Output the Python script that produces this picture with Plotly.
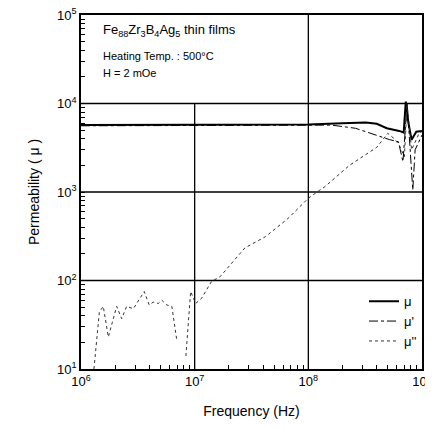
import plotly.graph_objects as go

# mu (solid)
f_mu = [1e6, 2e6, 5e6, 1e7, 2e7, 5e7, 1e8, 2e8, 3.2e8, 4e8, 4.9e8, 6.3e8, 6.9e8, 7.2e8, 7.6e8, 8.1e8, 8.9e8, 1e9]
mu = [5700, 5700, 5700, 5700, 5700, 5750, 5800, 6000, 6100, 5900, 5250, 4900, 4700, 10500, 6000, 3900, 4800, 4900]

# mu' (dash-dot)
f_mu1 = [1e6, 2e6, 5e6, 1e7, 2e7, 5e7, 1e8, 1.6e8, 2.6e8, 4e8, 5.2e8, 6.2e8, 6.8e8, 7.4e8, 8.3e8, 8.7e8, 1e9]
mu1 = [5600, 5600, 5600, 5600, 5600, 5650, 5700, 5700, 5250, 4350, 3900, 3700, 2200, 10000, 1050, 3000, 4400]

# mu'' (dotted)
f_mu2 = [1.3e6, 1.45e6, 1.57e6, 1.74e6, 2.06e6, 2.28e6, 2.52e6, 2.89e6, 3.6e6, 3.98e6, 4.32e6,
         4.79e6, 5.13e6, 5.68e6, 6.3e6, 6.93e6, None,
         8.37e6, 9.22e6, 1.02e7, 1.15e7, 1.41e7, 1.67e7, 2.76e7, 4.2e7, 6.6e7, 1e8, 1.26e8,
         1.4e8, 2.3e8, 4e8, 5e8, 5.7e8, 6.3e8, 7e8, 7.4e8, 8.1e8, 9.5e8, 1e9]
mu2 = [10, 44, 51, 23, 51, 37, 51, 48, 75, 53, 57,
       55, 60, 53, 51, 22, None,
       14, 75, 55, 63, 98, 110, 233, 313, 500, 850, 1050,
       1150, 2000, 3200, 4600, 4000, 3400, 2500, 10000, 3000, 4700, 4800]

x_exps = [6, 7, 8, 9]
y_exps = [1, 2, 3, 4, 5]


def log_ticks(exps):
    vals, text = [], []
    for e in exps:
        for m in range(1, 10):
            if m > 1 and e == exps[-1]:
                break
            vals.append(m * 10 ** e)
            text.append(f"10<sup>{e}</sup>" if m == 1 else "")
    return vals, text


x_tickvals, x_ticktext = log_ticks(x_exps)
y_tickvals, y_ticktext = log_ticks(y_exps)

fig = go.Figure()
fig.add_trace(go.Scatter(x=f_mu, y=mu, mode="lines", name="μ",
                         line=dict(color="black", width=2)))
fig.add_trace(go.Scatter(x=f_mu1, y=mu1, mode="lines", name="μ'",
                         line=dict(color="black", width=1, dash="dashdot")))
fig.add_trace(go.Scatter(x=f_mu2, y=mu2, mode="lines", name="μ''",
                         line=dict(color="#333", width=1, dash="dot"), connectgaps=False))

axis_common = dict(
    type="log", showline=True, linecolor="black", linewidth=1.5, mirror=True,
    ticks="inside", ticklen=4, tickcolor="black", showgrid=False,
    zeroline=False, automargin=False, tickmode="array", ticklabeloverflow="allow",
    tickfont=dict(size=13, color="black", family="Liberation Sans, Arial"),
)

fig.update_layout(
    xaxis=dict(range=[6, 9], tickvals=x_tickvals, ticktext=x_ticktext,
               title=dict(text="Frequency (Hz)", font=dict(size=14, color="black"), standoff=18),
               **axis_common),
    yaxis=dict(range=[1, 5], tickvals=y_tickvals, ticktext=y_ticktext,
               title=dict(text="Permeability ( μ )", font=dict(size=14, color="black"), standoff=14),
               **axis_common),
)

# decade grid lines (the 10^7 line stops at 10^4, below the caption)
fig.add_vline(x=10 ** x_exps[1], y0=0, y1=0.75, line=dict(color="black", width=1.3), layer="below")
fig.add_vline(x=10 ** x_exps[2], line=dict(color="black", width=1.3), layer="below")
for e in y_exps[1:-1]:
    fig.add_hline(y=10 ** e, line=dict(color="black", width=1.3), layer="below")

fig.add_annotation(x=0.06, y=0.955, xref="paper", yref="paper", xanchor="left", yanchor="middle",
                   text="Fe<sub>88</sub>Zr<sub>3</sub>B<sub>4</sub>Ag<sub>5</sub> thin films",
                   showarrow=False, font=dict(size=13, color="black"))
fig.add_annotation(x=0.06, y=0.885, xref="paper", yref="paper", xanchor="left", yanchor="middle",
                   text="Heating Temp. : 500°C", showarrow=False, font=dict(size=11, color="black"))
fig.add_annotation(x=0.06, y=0.835, xref="paper", yref="paper", xanchor="left", yanchor="middle",
                   text="H = 2 mOe", showarrow=False, font=dict(size=11, color="black"))

# the page body adds an 8px offset; compensate in the margins
fig.update_layout(
    width=433, height=422,
    margin=dict(l=73, r=19, t=7, b=61),
    paper_bgcolor="white", plot_bgcolor="white",
    font=dict(family="Liberation Sans, Arial", color="black"),
    legend=dict(x=1.0, y=0.135, xanchor="right", yanchor="middle", bgcolor="rgba(0,0,0,0)",
                font=dict(size=13), tracegroupgap=2),
    showlegend=True,
)

fig.write_html("out.html")
